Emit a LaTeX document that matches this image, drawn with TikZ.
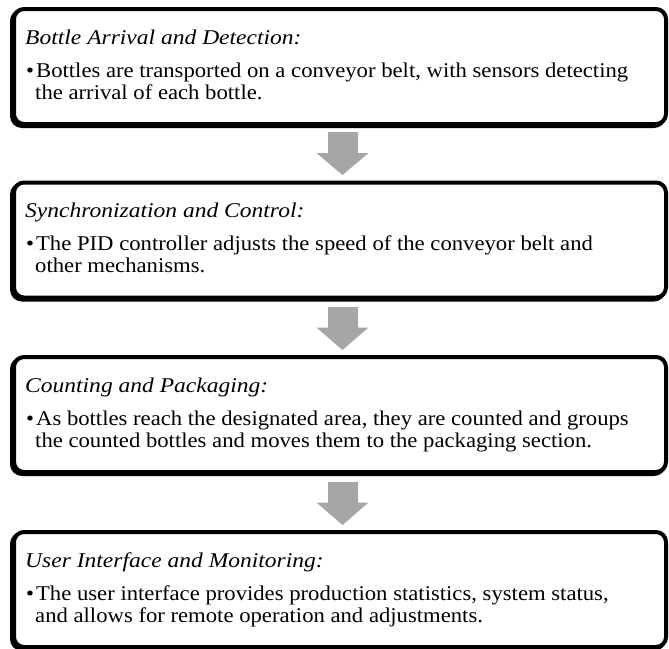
\documentclass[tikz,border=0pt]{standalone}
\usepackage{fontspec}
\setmainfont{Liberation Serif}[FakeStretch=1.08,ItalicFeatures={FakeStretch=1.12}]
\usetikzlibrary{calc}
\definecolor{grisFlecha}{RGB}{166,166,166}

\begin{document}
\begin{tikzpicture}[x=1pt,y=-1pt,
  caja/.style={draw=black,line width=4pt,rounded corners=10pt,fill=white,
    minimum width=652pt,minimum height=115pt,outer sep=0pt,inner sep=0pt,
    anchor=north west,
    preaction={draw=black,line width=4pt,transform canvas={shift={(-2pt,-2pt)}}}},
  titulo/.style={anchor=base west,inner sep=0pt,
    font=\fontsize{21}{22}\selectfont\itshape},
  texto/.style={anchor=base west,inner sep=0pt,align=left,
    font=\fontsize{21}{22}\selectfont},
  flecha/.style={fill=grisFlecha}]
  \useasboundingbox (0,0) rectangle (669,648);
  % cajas
  \node[caja] (b1) at (14,9) {};
  \node[caja] (b2) at (14,182.5) {};
  \node[caja] (b3) at (14,357) {};
  \node[caja] (b4) at (14,532) {};
  % textos (la base del nodo de texto es la de su ultima linea)
  \node[titulo] (t1) at ($(b1.north west)+(11,35)$) {Bottle Arrival and Detection:};
  \node[texto] (d1) at ($(b1.north west)+(12,90)$)
    {\textbullet\hspace{2pt}Bottles are transported on a conveyor belt, with sensors detecting\\
     \hspace*{9pt}the arrival of each bottle.};
  \node[titulo] (t2) at ($(b2.north west)+(11,35)$) {Synchronization and Control:};
  \node[texto] (d2) at ($(b2.north west)+(12,90)$)
    {\textbullet\hspace{2pt}The PID controller adjusts the speed of the conveyor belt and\\
     \hspace*{9pt}other mechanisms.};
  \node[titulo] (t3) at ($(b3.north west)+(11,35)$) {Counting and Packaging:};
  \node[texto] (d3) at ($(b3.north west)+(12,90)$)
    {\textbullet\hspace{2pt}As bottles reach the designated area, they are counted and groups\\
     \hspace*{9pt}the counted bottles and moves them to the packaging section.};
  \node[titulo] (t4) at ($(b4.north west)+(11,35)$) {User Interface and Monitoring:};
  \node[texto] (d4) at ($(b4.north west)+(12,90)$)
    {\textbullet\hspace{2pt}The user interface provides production statistics, system status,\\
     \hspace*{9pt}and allows for remote operation and adjustments.};
  % flechas
  \fill[flecha] ($(b1.south)+(-12,8)$) -- ($(b1.south)+(18,8)$)
    -- ($(b2.north)+(18,-29.5)$) -- ($(b2.north)+(28.5,-29.5)$)
    -- ($(b2.north)+(2.5,-7.5)$) -- ($(b2.north)+(-23.5,-29.5)$)
    -- ($(b2.north)+(-12,-29.5)$) -- cycle;
  \fill[flecha] ($(b2.south)+(-12,9.5)$) -- ($(b2.south)+(18,9.5)$)
    -- ($(b3.north)+(18,-29.5)$) -- ($(b3.north)+(28.5,-29.5)$)
    -- ($(b3.north)+(2.5,-7)$) -- ($(b3.north)+(-23.5,-29.5)$)
    -- ($(b3.north)+(-12,-29.5)$) -- cycle;
  \fill[flecha] ($(b3.south)+(-12,10)$) -- ($(b3.south)+(18,10)$)
    -- ($(b4.north)+(18,-29.5)$) -- ($(b4.north)+(28.5,-29.5)$)
    -- ($(b4.north)+(2.5,-7)$) -- ($(b4.north)+(-23.5,-29.5)$)
    -- ($(b4.north)+(-12,-29.5)$) -- cycle;
\end{tikzpicture}
\end{document}
